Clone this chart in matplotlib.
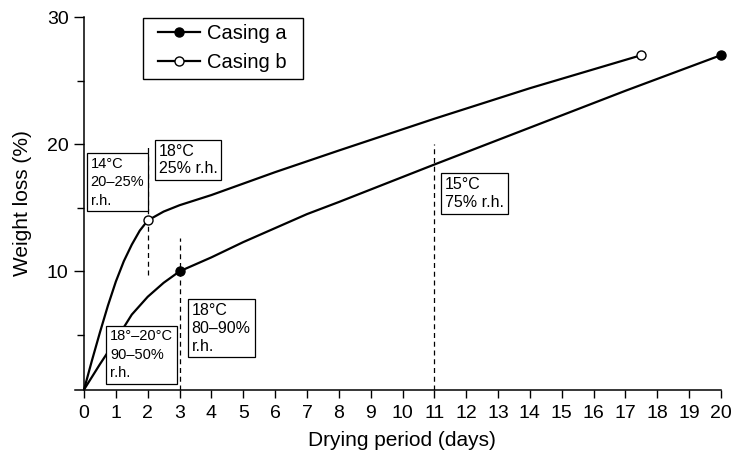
import matplotlib
matplotlib.use('Agg')
import matplotlib.pyplot as plt
from matplotlib.lines import Line2D
from matplotlib.patches import Rectangle

plt.rcParams['font.family'] = ['Liberation Sans', 'DejaVu Sans']

# Casing a (filled markers)
days_a = [0, 0.5, 1.0, 1.5, 2.0, 2.5, 3.0, 3.5, 4, 5, 6, 7, 8, 11, 14, 17, 20]
loss_a = [0.7, 2.7, 4.6, 6.6, 8.0, 9.1, 10.0, 10.55, 11.1, 12.3, 13.4, 14.5, 15.45, 18.4, 21.3, 24.2, 27.0]
mark_days_a = [3, 20]
mark_loss_a = [10, 27]

# Casing b (open markers)
days_b = [0, 0.25, 0.5, 0.75, 1.0, 1.25, 1.5, 1.75, 2.0, 2.5, 3.0, 4, 5, 6, 8, 11, 14, 17.5]
loss_b = [0.7, 3.0, 5.2, 7.3, 9.2, 10.8, 12.1, 13.2, 14.0, 14.7, 15.2, 16.0, 16.9, 17.8, 19.5, 22.0, 24.4, 27.0]
mark_days_b = [2, 17.5]
mark_loss_b = [14, 27]

# dashed condition boundaries
dash_days = [2, 3, 11]
dash_low = [9.7, 0.67, 0.67]
dash_high = [20.0, 12.6, 20.0]

# condition labels: (day, loss) of text top-left, text, font size, line spacing
notes = [
    (0.21, 19.0, "14°C\n20–25%\nr.h.", 10.5, 1.4),
    (2.34, 20.0, "18°C\n25% r.h.", 11.5, 1.15),
    (0.82, 5.45, "18°–20°C\n90–50%\nr.h.", 10.5, 1.4),
    (3.38, 7.55, "18°C\n80–90%\nr.h.", 11.5, 1.25),
    (11.33, 17.4, "15°C\n75% r.h.", 11.5, 1.25),
]

x_ticks = list(range(0, 21))

fig = plt.figure(figsize=(7.35, 4.57), dpi=100)
ax = fig.add_axes([75 / 735, 1 - 390 / 457, 646 / 735, 373 / 457])

ax.plot(days_a, loss_a, color='black', lw=1.6, solid_capstyle='butt', clip_on=False)
ax.plot(days_b, loss_b, color='black', lw=1.6, solid_capstyle='butt', clip_on=False)
ax.plot(mark_days_a, mark_loss_a, 'o', color='black', ms=6.5, clip_on=False, zorder=4)
ax.plot(mark_days_b, mark_loss_b, 'o', mfc='white', mec='black', mew=1.0, ms=6.5,
        clip_on=False, zorder=4)

for x, lo, hi in zip(dash_days, dash_low, dash_high):
    ax.plot([x, x], [lo, hi], color='black', lw=0.9, linestyle=(0, (4, 3)))

for x, y, txt, fs, ls in notes:
    ax.text(x, y, txt, fontsize=fs, ha='left', va='top', linespacing=ls, zorder=5,
            bbox=dict(boxstyle='square,pad=0.25', fc='white', ec='black', lw=0.9))

ax.set_xlim(-0.283, 20)
ax.set_ylim(0.67, 30)
ax.spines['top'].set_visible(False)
ax.spines['right'].set_visible(False)
ax.spines['left'].set_position(('data', 0))
ax.spines['left'].set_linewidth(1.1)
ax.spines['bottom'].set_linewidth(1.1)

ax.set_xticks(x_ticks)
ax.set_yticks([10, 20, 30])
ax.set_yticks([5, 15, 25], minor=True)
ax.tick_params(axis='x', direction='out', length=6, width=1.0, labelsize=14, pad=5)
ax.tick_params(axis='y', which='major', direction='out', length=7, width=1.0, labelsize=14, pad=4)
ax.tick_params(axis='y', which='minor', direction='out', length=5, width=1.0)

ax.set_xlabel("Drying period (days)", fontsize=15)
ax.set_ylabel("Weight loss (%)", fontsize=15)
ax.xaxis.set_label_coords((402 - 75) / 646, -0.11)
ax.yaxis.set_label_coords(-0.066, 0.5)

handles = [
    Line2D([], [], color='black', lw=1.6, marker='o', ms=6.5, mfc='black', mec='black'),
    Line2D([], [], color='black', lw=1.6, marker='o', ms=6.5, mfc='white', mec='black', mew=1.0),
]
leg = ax.legend(handles, ["Casing a", "Casing b"], loc='upper left',
                bbox_to_anchor=(158 / 735, 1 - 24 / 457), bbox_transform=fig.transFigure,
                fontsize=14.5, frameon=False, borderaxespad=0, borderpad=0,
                handlelength=2.1, handletextpad=0.35, labelspacing=0.5)
fig.patches.append(Rectangle((143 / 735, 1 - 79 / 457), 160 / 735, 61 / 457,
                             transform=fig.transFigure, fill=False, ec='black', lw=1.0))

fig.savefig('out.png', dpi=100)
